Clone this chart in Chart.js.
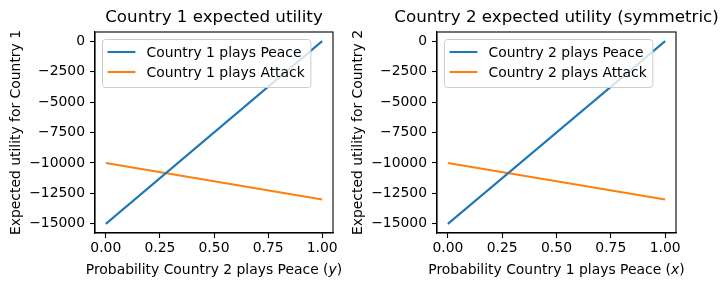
<!DOCTYPE html>
<html>
<head>
<meta charset="utf-8">
<script src="https://cdn.jsdelivr.net/npm/chart.js@4/dist/chart.umd.min.js"></script>
<style>
  html, body { margin: 0; padding: 0; background: #fff; }
  #wrap { position: relative; width: 728px; height: 290px; overflow: hidden; }
  canvas { position: absolute; top: 0; }
</style>
</head>
<body>
<div id="wrap">
  <canvas id="c1" width="372" height="290" style="left:0px"></canvas>
  <canvas id="c2" width="388" height="290" style="left:340px"></canvas>
</div>
<script>
// ---- data ----
const probabilities = [0, 1];
const country1Peace = [-15000, 0];
const country1Attack = [-10000, -13000];
const country2Peace = [-15000, 0];
const country2Attack = [-10000, -13000];
const xTickValues = [0, 0.25, 0.5, 0.75, 1.0];
const yTickValues = [0, -2500, -5000, -7500, -10000, -12500, -15000];
const titles = ["Country 1 expected utility", "Country 2 expected utility (symmetric)"];
const xLabels = [["Probability Country 2 plays Peace (", "y", ")"], ["Probability Country 1 plays Peace (", "x", ")"]];
const yLabels = ["Expected utility for Country 1", "Expected utility for Country 2"];
const seriesLabels = [
  ["Country 1 plays Peace", "Country 1 plays Attack"],
  ["Country 2 plays Peace", "Country 2 plays Attack"]
];

const FONT = "'DejaVu Sans', sans-serif";
const BLUE = '#1f77b4', ORANGE = '#ff7f0e';

const framePlugin = {
  id: 'frame',
  afterDatasetsDraw(chart) {
    const a = chart.chartArea, ctx = chart.ctx;
    ctx.save();
    ctx.strokeStyle = '#000';
    ctx.lineWidth = 1.1;
    ctx.strokeRect(a.left, a.top, a.right - a.left, a.bottom - a.top);
    ctx.restore();
  }
};

const textPlugin = {
  id: 'mplText',
  afterDraw(chart, args, opts) {
    const a = chart.chartArea, ctx = chart.ctx;
    const cx = (a.left + a.right) / 2, cy = (a.top + a.bottom) / 2;
    ctx.save();
    ctx.fillStyle = '#000';
    ctx.textBaseline = 'middle';
    ctx.font = '16.7px ' + FONT;
    ctx.textAlign = 'center';
    ctx.fillText(opts.title, cx, 18);
    const parts = opts.xLabel;
    const fonts = ['13.9px ' + FONT, 'oblique 13.9px ' + FONT, '13.9px ' + FONT];
    let total = 0;
    const widths = parts.map((p, i) => { ctx.font = fonts[i]; const w = ctx.measureText(p).width; total += w; return w; });
    let x = cx - total / 2;
    ctx.textAlign = 'left';
    parts.forEach((p, i) => { ctx.font = fonts[i]; ctx.fillText(p, x, 270); x += widths[i]; });
    ctx.font = '13.9px ' + FONT;
    ctx.textAlign = 'center';
    ctx.translate(opts.yLabelX, cy);
    ctx.rotate(-Math.PI / 2);
    ctx.fillText(opts.yLabel, 0, 0);
    ctx.restore();
  }
};

const mplLegend = {
  id: 'mplLegend',
  afterDraw(chart) {
    const a = chart.chartArea, ctx = chart.ctx;
    const ds = chart.data.datasets;
    ctx.save();
    ctx.font = '13.9px ' + FONT;
    let maxW = 0;
    ds.forEach(d => { maxW = Math.max(maxW, ctx.measureText(d.label).width); });
    const x0 = a.left + 7, y0 = a.top + 7;
    const w = 5.6 + 27.8 + 11.1 + maxW + 5.6;
    const h = 48;
    ctx.beginPath();
    ctx.roundRect(x0 + 0.5, y0 + 0.5, w, h, 3);
    ctx.fillStyle = 'rgba(255,255,255,0.8)';
    ctx.fill();
    ctx.strokeStyle = '#cccccc';
    ctx.lineWidth = 1;
    ctx.stroke();
    ds.forEach((d, i) => {
      const cy = y0 + 13 + i * 20;
      ctx.beginPath();
      ctx.moveTo(x0 + 5.6, cy);
      ctx.lineTo(x0 + 5.6 + 27.8, cy);
      ctx.strokeStyle = d.borderColor;
      ctx.lineWidth = 2.1;
      ctx.stroke();
      ctx.fillStyle = '#000';
      ctx.textBaseline = 'middle';
      ctx.textAlign = 'left';
      ctx.fillText(d.label, x0 + 5.6 + 27.8 + 11.1, cy + 1);
    });
    ctx.restore();
  }
};

function makeChart(id, idx, peace, attack, yAxisWidth, rightPad, yLabelX) {
  const toXY = arr => probabilities.map((p, i) => ({x: p, y: arr[i]}));
  return new Chart(document.getElementById(id), {
    type: 'line',
    data: {
      datasets: [
        {label: seriesLabels[idx][0], data: toXY(peace), borderColor: BLUE, backgroundColor: BLUE, borderWidth: 2.1, pointRadius: 0, tension: 0},
        {label: seriesLabels[idx][1], data: toXY(attack), borderColor: ORANGE, backgroundColor: ORANGE, borderWidth: 2.1, pointRadius: 0, tension: 0}
      ]
    },
    options: {
      responsive: false,
      animation: false,
      devicePixelRatio: 1,
      layout: {padding: {left: 0, right: rightPad, top: 32, bottom: 0}},
      plugins: {
        legend: {display: false},
        tooltip: {enabled: false},
        title: {display: false},
        mplText: {title: titles[idx], xLabel: xLabels[idx], yLabel: yLabels[idx], yLabelX: yLabelX}
      },
      scales: {
        x: {
          type: 'linear', min: -0.05, max: 1.05,
          afterBuildTicks: s => { s.ticks = xTickValues.map(v => ({value: v})); },
          afterFit: s => { s.height = 57; },
          grid: {drawOnChartArea: false, drawTicks: true, tickLength: 5, tickColor: '#000', tickWidth: 1.1},
          border: {display: true, color: '#000', width: 1.1},
          ticks: {color: '#000', padding: 2, maxRotation: 0, autoSkip: false,
                  font: {family: FONT, size: 13.9},
                  callback: v => Number(v).toFixed(2)}
        },
        y: {
          type: 'linear', min: -15750, max: 750,
          afterBuildTicks: s => { s.ticks = yTickValues.map(v => ({value: v})); },
          afterFit: s => { s.width = yAxisWidth; },
          grid: {drawOnChartArea: false, drawTicks: true, tickLength: 5, tickColor: '#000', tickWidth: 1.1},
          border: {display: true, color: '#000', width: 1.1},
          ticks: {color: '#000', padding: 5, autoSkip: false,
                  font: {family: FONT, size: 13.9},
                  callback: v => (v < 0 ? '\u2212' + Math.abs(v) : String(v))}
        }
      }
    },
    plugins: [framePlugin, mplLegend, textPlugin]
  });
}

makeChart('c1', 0, country1Peace, country1Attack, 95, 372 - 333, 16);
makeChart('c2', 1, country2Peace, country2Attack, 97, 388 - 336, 18);
</script>
</body>
</html>
